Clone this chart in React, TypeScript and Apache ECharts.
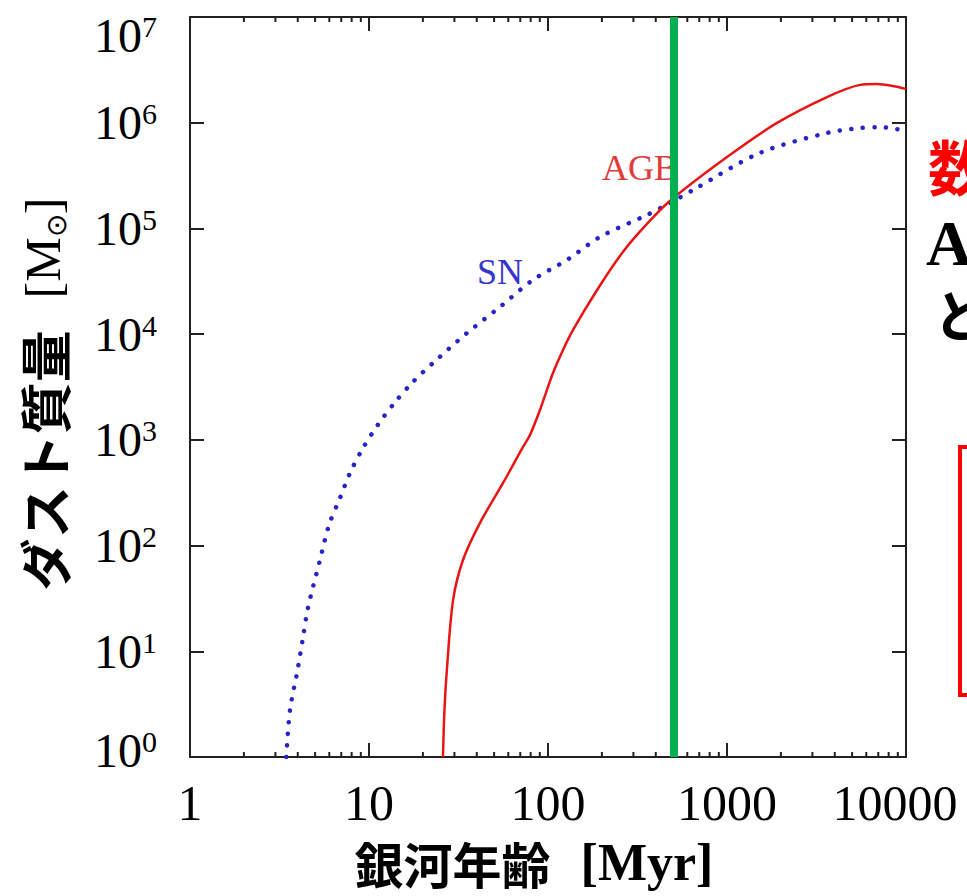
import React, { useEffect, useRef } from 'react';
import * as echarts from 'echarts';

// Galaxy age [Myr] and dust mass [Msun]
const snAge = [3.45, 3.62, 3.96, 4.28, 4.56, 5.32, 5.98, 6.89, 7.83, 9.26, 11.2, 14.0, 17.6, 22.8, 35.3, 53.9, 82.4, 127.6, 195, 357, 481, 646, 1528, 3620, 5530, 7160, 8910, 10000];
const snMass = [1, 2.8, 6.2, 13.6, 25.7, 73, 157, 282, 486, 838, 1384, 2281, 3530, 5340, 10260, 18080, 32570, 50350, 83000, 134000, 174000, 231000, 518000, 800000, 890000, 905000, 870000, 820000];

const agbAge = [25.9, 26.4, 27.3, 29.5, 33.5, 41.7, 56.1, 72.5, 79.3, 90.2, 98.7, 106.6, 121.3, 138, 188, 262, 357, 481, 1000, 1902, 3620, 5530, 6890, 8460, 10000];
const agbMass = [1, 2.8, 7.1, 30.6, 73, 164, 391, 857, 1112, 1919, 2966, 4296, 7080, 10960, 26180, 59900, 110400, 183000, 474000, 995000, 1750000, 2280000, 2330000, 2230000, 2090000];

const markerAge = 505;

const xMin = 1;
const xMax = 10000;
const yMin = 1;
const yMax = 1e7;
const minorXTicks = [2, 3, 4, 5, 6, 7, 8, 9, 20, 30, 40, 50, 60, 70, 80, 90, 200, 300, 400, 500, 600, 700, 800, 900, 2000, 3000, 4000, 5000, 6000, 7000, 8000, 9000];

const xAxisName = '銀河年齢';
const xAxisUnit = '[Myr]';
const yAxisName = 'ダスト質量';

const SERIF = '"Liberation Serif", "Times New Roman", serif';
const CJK = '"Noto Sans CJK JP", sans-serif';
const AXIS_COLOR = '#222';

export default function App() {
  const ref = useRef<HTMLDivElement>(null);

  useEffect(() => {
    if (!ref.current) return;
    const chart = echarts.init(ref.current, null, { renderer: 'svg' });

    const tickStyle = { color: AXIS_COLOR, width: 2 };
    const axisLine = { show: true, lineStyle: { color: AXIS_COLOR, width: 2 } };

    const option: any = {
      animation: false,
      backgroundColor: '#fff',
      grid: { left: 190, top: 17, width: 716, height: 740, containLabel: false, outerBoundsMode: 'none' },
      xAxis: [
        {
          type: 'log',
          logBase: 10,
          min: xMin,
          max: xMax,
          splitNumber: 4,
          position: 'bottom',
          axisLine,
          axisTick: { show: true, inside: true, length: 14, lineStyle: tickStyle },
          splitLine: { show: false },
          axisLabel: {
            margin: 24,
            formatter: (v: number) => {
              const r = Math.round(v);
              return r === 10000 ? `{last|${r}}` : `{n|${r}}`;
            },
            rich: {
              n: { fontFamily: SERIF, fontSize: 50, color: '#000', lineHeight: 44 },
              last: { fontFamily: SERIF, fontSize: 50, color: '#000', lineHeight: 44, padding: [0, 22, 0, 0] },
            },
          },
          name: `{c|${xAxisName}}{e|${xAxisUnit}}`,
          nameLocation: 'middle',
          nameGap: 80,
          nameTextStyle: {
            padding: [0, 28, 0, 0],
            rich: {
              c: { fontFamily: CJK, fontWeight: 'bold', fontSize: 49, color: '#000', lineHeight: 50 },
              e: { fontFamily: SERIF, fontWeight: 'bold', fontSize: 52, color: '#000', lineHeight: 50, padding: [0, 0, 0, 30] },
            },
          },
        },
        {
          type: 'log',
          logBase: 10,
          min: xMin,
          max: xMax,
          splitNumber: 4,
          position: 'top',
          axisLine,
          axisTick: { show: true, inside: true, length: 14, lineStyle: tickStyle },
          axisLabel: { show: false },
          splitLine: { show: false },
        },
      ],
      yAxis: [
        {
          type: 'log',
          logBase: 10,
          min: yMin,
          max: yMax,
          splitNumber: 7,
          position: 'left',
          axisLine,
          axisTick: { show: true, inside: true, length: 14, lineStyle: tickStyle },
          splitLine: { show: false },
          axisLabel: {
            margin: 33,
            formatter: (v: number) => {
              const e = Math.round(Math.log10(v));
              if (e === 7) return `{gt| }\n{b|10}{s|${e}}`;
              if (e === 0) return `{b|10}{s|${e}}\n{gb| }`;
              return `{b|10}{s|${e}}`;
            },
            rich: {
              b: { fontFamily: SERIF, fontSize: 48, color: '#000', lineHeight: 48 },
              s: { fontFamily: SERIF, fontSize: 30, color: '#000', lineHeight: 20, verticalAlign: 'top' },
              gt: { fontSize: 10, lineHeight: 36 },
              gb: { fontSize: 10, lineHeight: 14 },
            },
          },
          name: `{c|${yAxisName}}{e|[M}{sub|⊙}{e|]}`,
          nameLocation: 'middle',
          nameRotate: 90,
          nameGap: 120,
          nameTextStyle: {
            padding: [0, 14, 0, 0],
            rich: {
              c: { fontFamily: CJK, fontWeight: 'bold', fontSize: 52, color: '#000', lineHeight: 54, padding: [0, 32, 0, 0] },
              e: { fontFamily: SERIF, fontSize: 50, color: '#000', lineHeight: 54 },
              sub: { fontFamily: SERIF, fontSize: 28, color: '#000', lineHeight: 26, verticalAlign: 'bottom' },
            },
          },
        },
        {
          type: 'log',
          logBase: 10,
          min: yMin,
          max: yMax,
          splitNumber: 7,
          position: 'right',
          axisLine,
          axisTick: { show: true, inside: true, length: 14, lineStyle: tickStyle },
          axisLabel: { show: false },
          splitLine: { show: false },
        },
      ],
      series: [
        {
          name: 'minorTicks',
          type: 'custom',
          xAxisIndex: 0,
          yAxisIndex: 0,
          silent: true,
          clip: false,
          z: 4,
          data: minorXTicks.map((v) => [v, yMin]),
          encode: { x: 0, y: 1 },
          renderItem: (_params: any, api: any) => {
            const v = api.value(0);
            const b = api.coord([v, yMin]);
            const t = api.coord([v, yMax]);
            const st = { stroke: AXIS_COLOR, lineWidth: 2 };
            return {
              type: 'group',
              children: [
                { type: 'line', shape: { x1: b[0], y1: b[1], x2: b[0], y2: b[1] - 5 }, style: st },
                { type: 'line', shape: { x1: t[0], y1: t[1], x2: t[0], y2: t[1] + 5 }, style: st },
              ],
            };
          },
        },
        {
          name: 'SN',
          type: 'line',
          xAxisIndex: 0,
          yAxisIndex: 0,
          data: snAge.map((a, i) => [a, snMass[i]]),
          showSymbol: false,
          symbol: 'none',
          smooth: 0.3,
          clip: true,
          z: 3,
          lineStyle: { color: '#2424c8', width: 4.5, type: [0.1, 11.5], cap: 'round' },
        },
        {
          name: 'AGB',
          type: 'line',
          xAxisIndex: 0,
          yAxisIndex: 0,
          data: agbAge.map((a, i) => [a, agbMass[i]]),
          showSymbol: false,
          symbol: 'none',
          smooth: 0.3,
          clip: true,
          z: 3,
          lineStyle: { color: '#e81515', width: 2.5 },
        },
        {
          name: 'marker',
          type: 'line',
          xAxisIndex: 0,
          yAxisIndex: 0,
          data: [],
          z: 6,
          markLine: {
            silent: true,
            symbol: ['none', 'none'],
            label: { show: false },
            lineStyle: { color: '#00b050', width: 8, type: 'solid' },
            data: [{ xAxis: markerAge }],
          },
        },
      ],
      graphic: [
        {
          type: 'text',
          left: 602,
          top: 150,
          z: 1,
          style: { text: 'AGB', fill: '#e03a3a', font: `36px ${SERIF}` },
        },
        {
          type: 'text',
          left: 477,
          top: 254,
          z: 1,
          style: { text: 'SN', fill: '#3535d0', font: `36px ${SERIF}` },
        },
        {
          type: 'text',
          left: 928,
          top: 132,
          z: 10,
          style: { text: '数', fill: '#ff0000', font: `bold 60px ${CJK}`, lineHeight: 64 },
        },
        {
          type: 'text',
          left: 926,
          top: 211,
          z: 10,
          style: { text: 'A', fill: '#000', font: `bold 64px ${SERIF}`, lineHeight: 52 },
        },
        {
          type: 'text',
          left: 933,
          top: 284,
          z: 10,
          style: { text: 'と', fill: '#000', font: `bold 56px ${CJK}`, lineHeight: 52 },
        },
        {
          type: 'rect',
          z: 10,
          shape: { x: 960, y: 447, width: 60, height: 248 },
          style: { fill: 'none', stroke: '#ff0000', lineWidth: 4 },
        },
      ],
    };

    chart.setOption(option);
    return () => chart.dispose();
  }, []);

  return (
    <div
      ref={ref}
      style={{ position: 'absolute', left: 0, top: 0, width: 967, height: 896, background: '#fff' }}
    />
  );
}
